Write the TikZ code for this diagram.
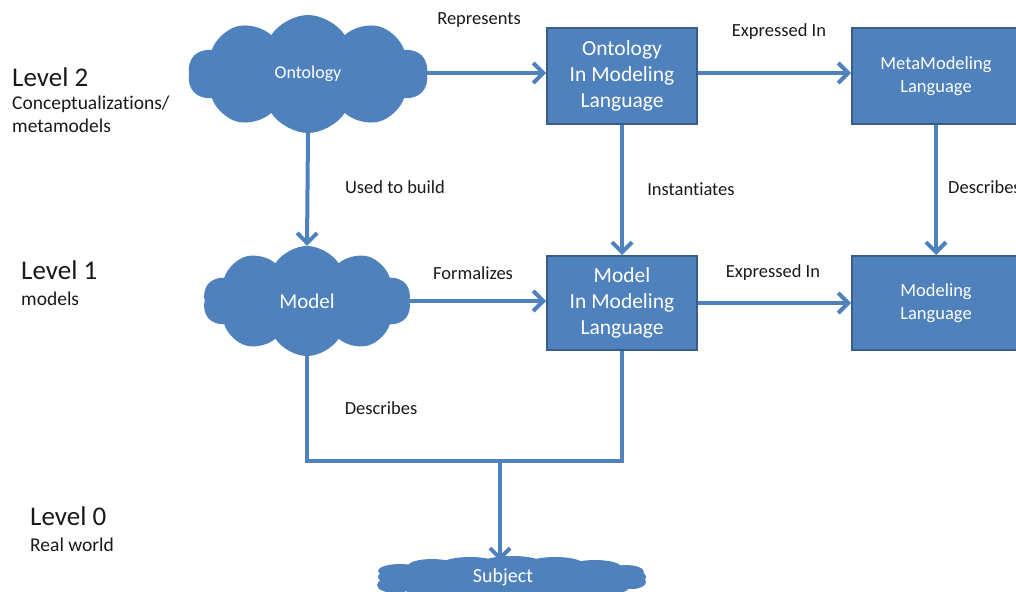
\documentclass[tikz,border=0pt]{standalone}
\usepackage{fontspec}
\setmainfont{Carlito}[Ligatures=NoCommon]
\usetikzlibrary{shapes.symbols,arrows.meta}
\definecolor{bfill}{HTML}{4F81BD}
\definecolor{bline}{HTML}{385D8A}
\begin{document}
\begin{tikzpicture}[x=1pt,y=-1pt,
  cloudnode/.style={cloud, cloud puffs=10, cloud puff arc=115, fill=bfill, draw=none, text=white, inner sep=0pt},
  boxnode/.style={rectangle, fill=bfill, draw=bline, line width=2pt, text=white, inner sep=0pt, align=center},
  conn/.style={draw=bfill, line width=4pt},
  arr/.style={conn, -{Straight Barb[length=10pt,width=20pt,line width=4pt]}},
  lbl/.style={font=\fontsize{18.5}{22}\selectfont, text=black!90, inner sep=0pt},
  lvl/.style={font=\fontsize{27}{30}\selectfont, text=black!90, anchor=west, inner sep=0pt},
  sub/.style={font=\fontsize{19.5}{23}\selectfont, text=black!90, anchor=west, inner sep=0pt, align=left}
]
\useasboundingbox (0,0) rectangle (1016,591);
\clip (0,0) rectangle (1016,591);

% level labels
\node[lvl] (l2) at (12,77) {Level 2};
\node[sub] (l2s) at (12,104) {Conceptualizations/};
\node[sub] (l2t) at (12,126) {metamodels};
\node[lvl] (l1) at (21,270) {Level 1};
\node[sub] (l1s) at (21,299) {models};
\node[lvl] (l0) at (30,516) {Level 0};
\node[sub] (l0s) at (30,545) {Real world};

% clouds
\node[cloudnode, minimum width=240pt, minimum height=118pt, font=\fontsize{18}{20}\selectfont] (onto) at (308,74) {Ontology};
\node[cloudnode, minimum width=208pt, minimum height=110pt, font=\fontsize{21}{24}\selectfont] (model) at (307,301) {Model};
% subject cloud (flat, drawn as overlapping puffs)
\begin{scope}[fill=bfill]
  \fill (512,580) ellipse [x radius=126pt, y radius=13pt];
  \foreach \cx/\cy/\rx/\ry in {400/571/22/7, 432/566/24/7, 470/564/28/7, 512/563/30/7, 555/564/28/7, 595/567/26/7, 626/572/18/7,
                               395/585/18/8, 430/588/26/8, 475/590/28/8, 520/590/30/8, 565/590/28/8, 605/587/24/8, 632/582/14/7,
                               386/577/8/5, 639/577/7/5}
    \fill (\cx,\cy) ellipse [x radius=\rx pt, y radius=\ry pt];
\end{scope}
\node[text=white, font=\fontsize{20}{22}\selectfont, inner sep=0pt] (subj) at (503,577) {Subject};
\coordinate (subjtop) at (500,561);

% boxes
\node[boxnode, minimum width=150pt, minimum height=96pt, font=\fontsize{21.5}{26}\selectfont] (oml) at (622,76) {Ontology\\In Modeling\\Language};
\node[boxnode, minimum width=168pt, minimum height=96pt, font=\fontsize{18.5}{23}\selectfont] (meta) at (936,76) {MetaModeling\\Language};
\node[boxnode, minimum width=150pt, minimum height=94pt, font=\fontsize{21.5}{26}\selectfont] (mml) at (622,303) {Model\\In Modeling\\Language};
\node[boxnode, minimum width=168pt, minimum height=94pt, font=\fontsize{18.5}{23}\selectfont] (ml) at (936,303) {Modeling\\Language};

% connectors
\draw[arr] (onto.east |- 0,73) -- (oml.west |- 0,73);
\draw[arr] (oml.east |- 0,73) -- (meta.west |- 0,73);
\draw[arr] (onto.south) -- (model.north);
\draw[arr] (oml.south) -- (mml.north);
\draw[arr] (meta.south) -- (ml.north);
\draw[arr] (model.east |- 0,301) -- (mml.west |- 0,301);
\draw[arr] (mml.east) -- (ml.west);
\coordinate (j) at (500,461);
\draw[conn, line join=miter] (model.south) |- (j) -| (mml.south);
\draw[arr] (j) -- (subjtop);

% labels
\node[lbl] (t1) at (479,20) {Represents};
\node[lbl] (t2) at (779,32) {Expressed In};
\node[lbl] (t3) at (395,187) {Used to build};
\node[lbl] (t4) at (691,189) {Instantiates};
\node[lbl, anchor=west] (t5) at (948,187) {Describes};
\node[lbl] (t6) at (473,273) {Formalizes};
\node[lbl] (t7) at (773,273) {Expressed In};
\node[lbl] (t8) at (381,408) {Describes};
\end{tikzpicture}
\end{document}
